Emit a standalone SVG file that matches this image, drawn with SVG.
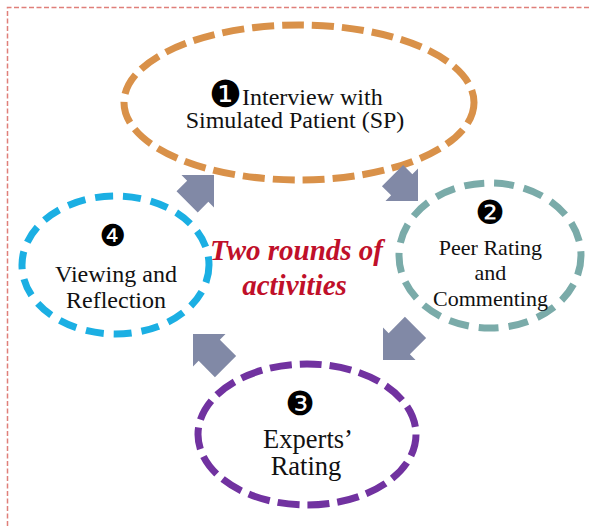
<svg xmlns="http://www.w3.org/2000/svg" width="591" height="526" viewBox="0 0 591 526">
<defs>
<style>
.frame{fill:none;stroke:#E07F7A;stroke-width:1.5;stroke-dasharray:5 2.5}
.ring{fill:none;stroke-width:7}
.lbl{font-family:"Liberation Serif","Times New Roman",serif;fill:#111;text-anchor:middle}
.num{font-family:"DejaVu Sans",sans-serif;fill:#000;text-anchor:middle}
.mid{font-family:"Liberation Serif","Times New Roman",serif;font-weight:bold;font-style:italic;fill:#C0102A;text-anchor:middle;font-size:29px}
.arr{fill:#8189A6}
</style>
</defs>
<rect width="591" height="526" fill="#fff"/>
<path class="frame" d="M7.5,526 V7.5 H591"/>

<g id="node1">
<ellipse class="ring" cx="299" cy="102.5" rx="175" ry="77.5" stroke="#D99149" stroke-dasharray="22 8"/>
<text class="num" x="225.5" y="107" font-size="37">❶</text>
<text class="lbl" x="242" y="105" font-size="24" style="text-anchor:start">Interview with</text>
<text class="lbl" x="295" y="128" font-size="24">Simulated Patient (SP)</text>
</g>

<g id="node2">
<ellipse class="ring" cx="490" cy="255.5" rx="91" ry="72.5" stroke="#7AABA9" stroke-dasharray="20 10"/>
<text class="num" x="490" y="224" font-size="33">❷</text>
<text class="lbl" x="490.5" y="255" font-size="22">Peer Rating</text>
<text class="lbl" x="490.5" y="280" font-size="22">and</text>
<text class="lbl" x="490.5" y="306" font-size="22">Commenting</text>
</g>

<g id="node3">
<ellipse class="ring" cx="307" cy="434.5" rx="109" ry="70.5" stroke="#7132A0" stroke-dasharray="22 8"/>
<text class="num" x="300" y="415" font-size="33">❸</text>
<text class="lbl" x="308" y="448" font-size="26.5">Experts’</text>
<text class="lbl" x="306" y="475" font-size="26.5">Rating</text>
</g>

<g id="node4">
<ellipse class="ring" cx="115.5" cy="265" rx="93.5" ry="69" stroke="#1BAFE3" stroke-dasharray="18 10"/>
<text class="num" x="113" y="246" font-size="30">❹</text>
<text class="lbl" x="116" y="282" font-size="24">Viewing and</text>
<text class="lbl" x="116" y="308" font-size="24">Reflection</text>
</g>

<g id="center-label">
<text class="mid" x="296.5" y="260">Two rounds of</text>
<text class="mid" x="294.5" y="295">activities</text>
</g>

<g id="connectors">
<polygon class="arr" transform="translate(214,175) rotate(-45)" points="0,0 -23,-23 -23,-15 -38,-15 -38,15 -23,15 -23,23"/>
<polygon class="arr" transform="translate(418,201) rotate(45)" points="0,0 -23,-23 -23,-15 -36,-15 -36,15 -23,15 -23,23"/>
<polygon class="arr" transform="translate(383,360) rotate(135)" points="0,0 -23,-23 -23,-15 -46,-15 -46,15 -23,15 -23,23"/>
<polygon class="arr" transform="translate(193,334) rotate(-135)" points="0,0 -23,-23 -23,-15 -46,-15 -46,15 -23,15 -23,23"/>
</g>
</svg>
